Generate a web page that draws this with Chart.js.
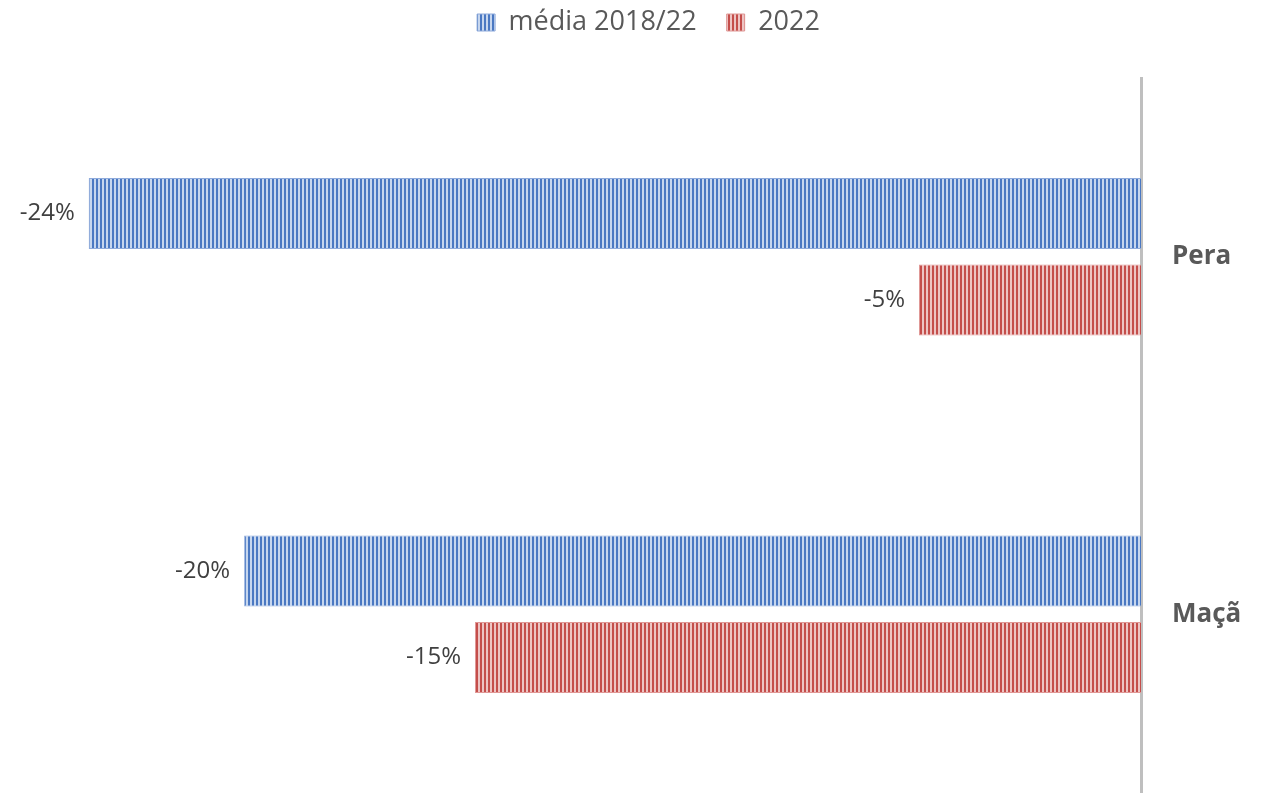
<!DOCTYPE html>
<html>
<head>
<meta charset="utf-8">
<script src="https://cdn.jsdelivr.net/npm/chart.js@4"></script>
<style>
  html, body { margin: 0; padding: 0; background: #ffffff; }
  #wrap { width: 1266px; height: 793px; position: relative; }
</style>
</head>
<body>
<div id="wrap"><canvas id="barChart"></canvas></div>
<script>
const categories = ["Pera", "Maçã"];
const seriesNames = ["média 2018/22", "2022"];
const mediaValues = [-0.237, -0.202];
const values2022 = [-0.05, -0.15];
const pctLabels = [["-24%", "-20%"], ["-5%", "-15%"]];

function stripes(dark, light) {
  const c = document.createElement("canvas");
  c.width = 4;
  c.height = 4;
  const g = c.getContext("2d");
  g.fillStyle = light;
  g.fillRect(0, 0, 4, 4);
  g.fillStyle = dark;
  g.fillRect(0, 0, 2, 4);
  return g.createPattern(c, "repeat");
}

const ctx = document.getElementById("barChart");
const bluePattern = stripes("#4a78c2", "#c6d6ee");
const redPattern = stripes("#c44e4b", "#edc4c3");

// legend takes a fixed band at the top, drawn a bit higher than its padding
const legendBand = {
  id: "legendBand",
  afterInit(chart) {
    const legend = chart.legend;
    const fit = legend.fit;
    legend.fit = function () {
      fit.call(this);
      this.height = 78;
    };
    const draw = legend.draw;
    legend.draw = function (area) {
      this.ctx.save();
      this.ctx.translate(0, -21);
      draw.call(this, area);
      this.ctx.restore();
    };
  }
};

const valueLabels = {
  id: "valueLabels",
  afterDatasetsDraw(chart) {
    const c = chart.ctx;
    c.save();
    c.font = "24px 'Open Sans'";
    c.fillStyle = "#404040";
    c.textAlign = "right";
    c.textBaseline = "middle";
    chart.data.datasets.forEach((ds, i) => {
      chart.getDatasetMeta(i).data.forEach((bar, j) => {
        c.fillText(pctLabels[i][j], bar.x - 14, bar.y);
      });
    });
    c.restore();
  }
};

const barChart = new Chart(ctx, {
  type: "bar",
  data: {
    labels: categories,
    datasets: [{
      label: seriesNames[0],
      data: mediaValues,
      backgroundColor: bluePattern,
      borderColor: "#8eaadb",
      borderWidth: 1
    }, {
      label: seriesNames[1],
      data: values2022,
      backgroundColor: redPattern,
      borderColor: "#e09896",
      borderWidth: 1
    }]
  },
  options: {
    indexAxis: "y",
    responsive: true,
    maintainAspectRatio: false,
    animation: false,
    categoryPercentage: 0.484,
    barPercentage: 0.82,
    layout: {
      padding: { left: 31, top: 0, bottom: 0, right: 0 }
    },
    scales: {
      x: {
        display: false,
        min: -0.25,
        max: 0
      },
      y: {
        position: "right",
        grid: { display: false, drawTicks: false },
        border: { color: "#bfbfbf", width: 3 },
        ticks: {
          color: "#595959",
          font: { family: "'Open Sans'", size: 26, weight: "bold" },
          padding: 31
        },
        afterFit(scale) {
          scale.width = 125;
          scale.paddingTop = 0;
          scale.paddingBottom = 0;
        }
      }
    },
    plugins: {
      legend: {
        position: "top",
        labels: {
          color: "#595959",
          font: { family: "'Open Sans'", size: 27 },
          boxWidth: 18,
          boxHeight: 17,
          padding: 30
        }
      },
      tooltip: { enabled: false }
    }
  },
  plugins: [legendBand, valueLabels]
});
</script>
</body>
</html>
